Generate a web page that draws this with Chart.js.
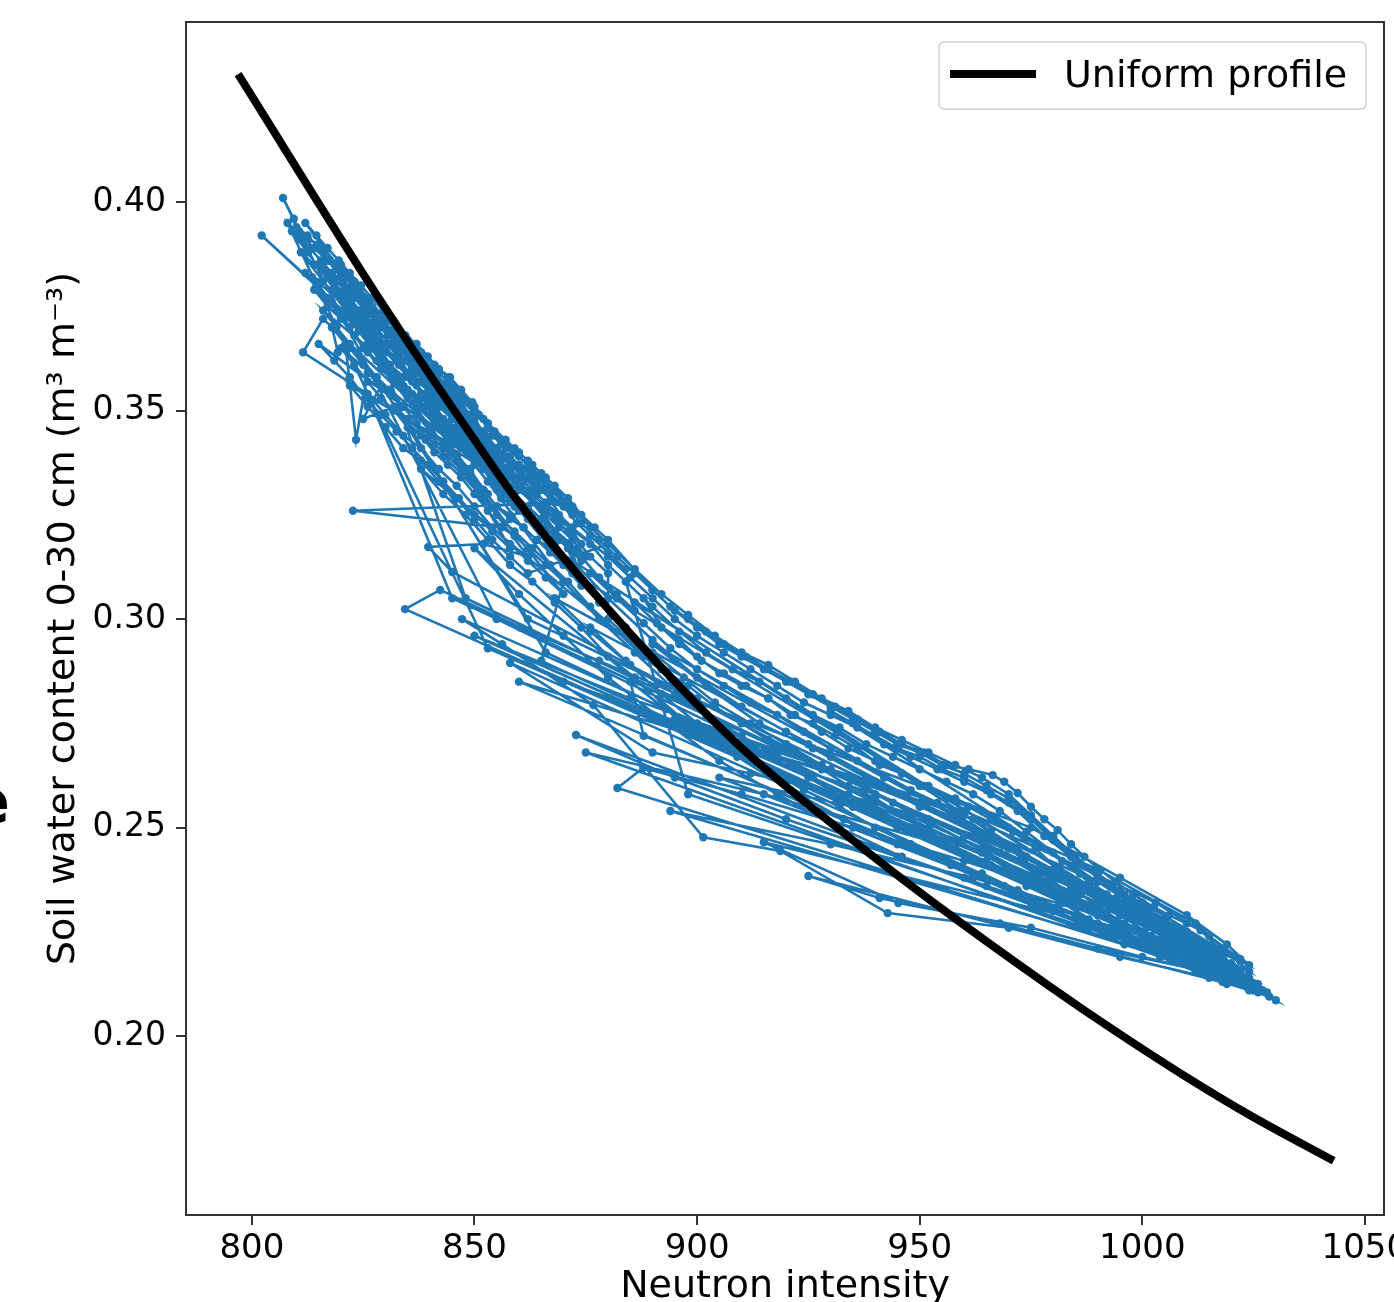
<!DOCTYPE html>
<html>
<head>
<meta charset="utf-8">
<script src="https://cdn.jsdelivr.net/npm/chart.js@4/dist/chart.umd.min.js"></script>
<style>
  html, body { margin: 0; padding: 0; background: #fff; }
  canvas { display: block; }
</style>
</head>
<body>
<canvas id="chart" width="1394" height="1302"></canvas>
<script>
const xTicks = [800, 850, 900, 950, 1000, 1050];
const yTicks = [0.20, 0.25, 0.30, 0.35, 0.40];

// uniform profile curve
const uniformN = [796.9, 828.8, 850.0, 859.6, 878.2, 908.1, 936.7, 952.4, 979.4, 994.5, 1009.3, 1024.4, 1043.0];
const uniformTheta = [0.4307, 0.3765, 0.343, 0.3285, 0.3046, 0.2710, 0.2455, 0.2326, 0.2118, 0.2008, 0.1906, 0.1809, 0.1701];

// observed series [neutron intensity, soil water content], in time order
const observed = [
  [812.6,0.388],[809.4,0.396],[807.0,0.401],[810.6,0.393],[812.6,0.391],[815.0,0.390],[817.5,0.386],[820.0,0.384],[822.5,0.381],[825.0,0.377],[827.5,0.374],[830.0,0.371],[832.5,0.368],[835.0,0.365],[838.0,0.362],[841.0,0.359],[844.0,0.356],[847.0,0.352],
  [813.5,0.382],[816.0,0.381],[818.5,0.378],[821.0,0.375],[823.5,0.371],[826.0,0.368],[828.6,0.365],[831.0,0.361],[834.0,0.358],[837.0,0.356],[840.0,0.352],[843.0,0.348],[846.0,0.346],[849.0,0.342],[852.0,0.338],[855.0,0.334],
  [811.5,0.364],[816.0,0.372],[818.0,0.370],[819.3,0.364],[822.0,0.365],[825.0,0.361],[828.0,0.357],[831.0,0.354],[834.0,0.351],[837.0,0.347],[840.0,0.344],[843.0,0.341],[846.0,0.338],[849.0,0.334],[852.0,0.331],
  [809.0,0.393],[811.0,0.391],[813.0,0.389],[815.5,0.386],[818.0,0.383],[820.5,0.381],[823.0,0.377],[825.5,0.374],[828.0,0.371],[830.5,0.368],[833.0,0.365],[835.5,0.362],[838.0,0.360],[840.5,0.357],[843.0,0.354],[845.5,0.351],[848.0,0.348],[850.5,0.345],[853.0,0.342],[855.5,0.339],[858.0,0.337],[861.0,0.334],[864.0,0.331],
  [802.2,0.392],[814.5,0.380],[817.0,0.377],[819.5,0.374],[822.0,0.370],[825.0,0.365],[828.0,0.362],[831.0,0.360],[834.0,0.356],[837.0,0.352],[840.0,0.349],[843.0,0.346],[846.0,0.342],[849.0,0.340],[852.0,0.336],[855.0,0.331],[858.0,0.329],
  [820.0,0.385],[823.0,0.381],[826.0,0.377],[829.0,0.373],[832.0,0.370],[835.0,0.366],[838.0,0.363],[841.0,0.360],[844.0,0.357],[847.0,0.353],[850.0,0.350],[853.0,0.346],[856.0,0.342],[859.0,0.340],[862.0,0.337],[865.0,0.334],[868.0,0.331],[871.0,0.328],
  [822.7,0.326],[856.0,0.322],[860.0,0.326],[863.0,0.324],[866.0,0.322],[869.0,0.319],[872.0,0.316],
  [818.0,0.370],[821.0,0.366],[823.4,0.343],[826.0,0.359],[829.0,0.356],[825.0,0.348],[832.0,0.351],[835.0,0.348],[838.0,0.345],[841.0,0.342],[844.0,0.339],[847.0,0.336],[850.0,0.333],[853.0,0.330],
  [811.0,0.388],[814.0,0.385],[817.0,0.382],[820.0,0.378],[823.0,0.374],[826.0,0.370],[829.0,0.366],[832.0,0.363],[835.0,0.359],[838.0,0.357],[841.0,0.353],[844.0,0.350],[847.0,0.347],[850.0,0.343],[853.0,0.339],[856.0,0.335],[859.0,0.333],[862.0,0.330],[865.0,0.327],[868.0,0.324],[871.0,0.321],[874.0,0.318],
  [862.0,0.336],[866.0,0.332],[870.0,0.328],[874.0,0.323],[878.0,0.319],[882.0,0.315],[886.0,0.311],[890.0,0.307],[894.0,0.303],[898.0,0.300],[902.0,0.297],[906.0,0.294],[911.0,0.291],[916.0,0.288],[921.0,0.285],[926.0,0.282],[931.0,0.279],[936.0,0.276],[941.0,0.273],[946.0,0.270],[951.0,0.268],[956.0,0.265],[961.0,0.264],[966.4,0.2626],[969.0,0.261],[972.0,0.2583],[975.0,0.255],[978.0,0.252],[981.0,0.2494],[984.0,0.246],[987.0,0.243],[990.6,0.2398],[994.0,0.237],[998.0,0.234],[1002.6,0.2309],[1006.0,0.229],[1010.0,0.227],[1013.1,0.2254],[1017.6,0.2206],[1020.6,0.2158],[1023.0,0.2135],[1025.0,0.2127],[1027.0,0.211],[1030.0,0.2086],[1026.0,0.2105],[1028.5,0.2095],[1024.0,0.212],
  [872.8,0.2722],[895.0,0.262],[920.0,0.252],[945.0,0.243],[965.0,0.236],[985.0,0.229],[1000.0,0.224],[1012.0,0.220],[1020.0,0.216],[1026.0,0.212],
  [882.1,0.2595],[887.9,0.2643],[910.0,0.258],[935.0,0.250],[960.0,0.242],[980.0,0.235],[998.0,0.228],[1012.0,0.222],[1022.0,0.2155],[1028.0,0.2105],
  [834.4,0.3024],[842.3,0.307],[860.3,0.298],[878.0,0.290],[900.0,0.280],[925.0,0.270],[950.0,0.260],[975.0,0.250],[995.0,0.238],[1010.0,0.229],[1019.0,0.222],[1024.0,0.217],
  [847.2,0.300],[856.2,0.294],[876.7,0.2794],[901.4,0.2477],[918.7,0.2444],[942.8,0.2295],[970.0,0.226],[995.0,0.219],[1015.0,0.214],[1024.0,0.211],
  [845.0,0.3113],[839.6,0.3173],[852.0,0.318],[862.0,0.315],
  [826.0,0.366],[829.0,0.363],[832.0,0.359],[835.0,0.355],[838.0,0.353],[841.0,0.350],[844.0,0.346],[847.0,0.343],[850.0,0.339],[853.0,0.336],[856.0,0.331],[859.0,0.329],[862.0,0.326],[865.0,0.322],[868.0,0.320],[871.0,0.317],[874.0,0.314],
  [828.0,0.372],[831.0,0.369],[834.0,0.365],[837.0,0.362],[840.0,0.359],[843.0,0.356],[846.0,0.353],[849.0,0.349],[852.0,0.345],[855.0,0.341],[858.0,0.339],[861.0,0.336],[864.0,0.333],[867.0,0.330],[870.0,0.327],[873.0,0.323],[876.0,0.320],[880.0,0.316],[884.0,0.312],
  [815.0,0.366],[818.5,0.362],[822.0,0.358],[825.5,0.353],[829.0,0.349],[832.5,0.345],[836.0,0.341],[839.5,0.337],[843.0,0.333],[846.5,0.329],[850.0,0.325],[854.0,0.321],[858.0,0.317],
  [833.0,0.363],[836.0,0.360],[839.0,0.357],[842.0,0.354],[845.0,0.351],[848.0,0.348],[851.0,0.344],[854.0,0.340],[857.0,0.336],[860.0,0.334],[863.0,0.331],[866.0,0.328],[869.0,0.325],[872.0,0.322],[876.0,0.318],[880.0,0.313],[884.0,0.309],[888.0,0.305],
  [892.0,0.298],[896.0,0.295],[900.0,0.291],[905.0,0.287],[910.0,0.284],[916.0,0.281],[922.0,0.277],[928.0,0.273],[934.0,0.269],[940.0,0.266],[946.0,0.263],[952.0,0.260],[958.0,0.257],[964.0,0.254],[970.0,0.250],[976.0,0.246],[982.0,0.242],[988.0,0.237],[994.0,0.233],[1000.0,0.229],[1006.0,0.226],[1011.0,0.223],[1016.0,0.220],[1020.0,0.217],[1024.0,0.2135],
  [894.0,0.254],[930.0,0.246],[962.0,0.238],[990.0,0.229],[1008.0,0.222],[1018.0,0.2175],[1026.0,0.2125],
  [880.5,0.281],[905.0,0.271],[935.0,0.262],[962.0,0.252],[985.0,0.241],[1003.0,0.232],[1015.0,0.224],[1022.0,0.2185],
  [915.0,0.2465],[945.2,0.2319],[975.0,0.226],[1000.0,0.219],[1018.0,0.2145],[1025.0,0.211],
  [925.0,0.2384],[941.0,0.2331],[968.0,0.227],[990.0,0.221],[1012.0,0.216],
  [858.0,0.2895],[890.0,0.268],[912.0,0.263],[940.0,0.256],[966.0,0.247],[988.0,0.236],[1005.0,0.228],[1017.0,0.221],[862.0,0.300],
  [828.0,0.358],[831.0,0.354],[834.0,0.351],[837.0,0.349],[840.0,0.345],[843.0,0.342],[846.0,0.339],[849.0,0.336],[852.0,0.331],[855.0,0.327],[858.0,0.324],[861.0,0.322],[864.0,0.319],[867.0,0.317],[870.0,0.313],
  [812.0,0.395],[814.5,0.392],[817.0,0.389],[819.5,0.386],[822.0,0.383],[824.5,0.380],[827.0,0.377],[829.5,0.374],[832.0,0.371],[834.5,0.368],[837.0,0.366],[839.5,0.363],[842.0,0.360],[844.5,0.358],[847.0,0.355],[849.5,0.352],[852.0,0.348],[854.5,0.345],[857.0,0.343],[860.0,0.340],[863.0,0.337],[866.0,0.334],
  [815.0,0.385],[818.0,0.381],[821.0,0.378],[824.0,0.374],[827.0,0.370],[830.0,0.366],[833.0,0.363],[836.0,0.360],[839.0,0.357],[842.0,0.353],[845.0,0.350],[848.0,0.346],[851.0,0.343],[854.0,0.338],[857.0,0.335],[860.0,0.333],[863.0,0.330],[866.0,0.327],
  [880.0,0.315],[885.0,0.310],[890.0,0.305],[895.0,0.300],[900.0,0.296],[906.0,0.292],[912.0,0.288],[918.0,0.284],[924.0,0.280],[930.0,0.277],[936.0,0.274],[942.0,0.270],[948.0,0.267],[954.0,0.264],[960.0,0.261],[966.0,0.258],[972.0,0.254],[978.0,0.248],[984.0,0.243],[990.0,0.238],[996.0,0.234],[1002.0,0.230],[1008.0,0.226],[1013.0,0.2225],[1018.0,0.219],[1022.0,0.2155],
  [868.0,0.305],[876.0,0.297],[885.0,0.289],[895.0,0.282],[905.0,0.275],[915.0,0.268],[925.0,0.262],[935.0,0.256],[945.0,0.250],[955.0,0.246],[965.0,0.242],[975.0,0.237],[985.0,0.232],[995.0,0.227],[1005.0,0.222],[1014.0,0.2185],[1020.0,0.2155],
  [872.0,0.311],[878.0,0.304],[884.0,0.298],[890.0,0.292],[897.0,0.286],[904.0,0.280],[912.0,0.275],[920.0,0.270],[928.0,0.265],[936.0,0.261],[944.0,0.256],[952.0,0.252],[960.0,0.248],[968.0,0.244],[976.0,0.239],[984.0,0.234],[992.0,0.229],[1000.0,0.225],[1008.0,0.221],[1015.0,0.218],[1021.0,0.2145],
  [853.0,0.293],
  [808.0,0.395],[811.0,0.392],[814.0,0.389],[817.0,0.386],[820.0,0.382],[823.0,0.378],[826.0,0.374],[829.0,0.370],[832.0,0.367],[835.0,0.363],[838.0,0.361],[841.0,0.357],[844.0,0.354],[847.0,0.351],[850.0,0.347],[853.0,0.343],[856.0,0.339],[859.0,0.337],[862.0,0.334],[865.0,0.331],[868.0,0.328],
  [814.0,0.379],[817.0,0.375],[820.0,0.372],[823.0,0.368],[826.0,0.364],[829.0,0.360],[832.0,0.357],[835.0,0.353],[838.0,0.351],[841.0,0.347],[844.0,0.344],[847.0,0.341],[850.0,0.337],[853.0,0.333],[856.0,0.329],[859.0,0.327],[862.0,0.324],[865.0,0.321],[868.0,0.318],[871.0,0.314],
  [818.0,0.379],[821.0,0.376],[824.0,0.371],[827.0,0.368],[830.0,0.364],[833.0,0.361],[836.0,0.357],[839.0,0.354],[842.0,0.351],[845.0,0.348],[848.0,0.344],[851.0,0.341],[854.0,0.336],[857.0,0.333],[860.0,0.331],[863.0,0.328],[866.0,0.325],[869.0,0.322],[872.0,0.319],[875.0,0.315],
  [820.0,0.365],[823.0,0.361],[826.0,0.357],[829.0,0.353],[832.0,0.350],[835.0,0.346],[838.0,0.344],[841.0,0.340],[844.0,0.337],[847.0,0.334],[850.0,0.330],[853.0,0.326],[856.0,0.322],[859.0,0.320],[862.0,0.317],[866.0,0.313],[870.0,0.309],
  [838.0,0.354],[841.0,0.351],[844.0,0.347],[847.0,0.344],[850.0,0.340],[853.0,0.336],[856.0,0.332],[859.0,0.330],[862.0,0.327],[865.0,0.324],[868.0,0.321],[871.0,0.318],[874.0,0.315],[878.0,0.310],[882.0,0.306],[886.0,0.302],
  [876.0,0.311],[882.0,0.305],[888.0,0.299],[894.0,0.293],[900.0,0.288],[906.0,0.284],[912.0,0.280],[918.0,0.277],[924.0,0.273],[930.0,0.269],[936.0,0.266],[942.0,0.262],[948.0,0.259],[954.0,0.256],[960.0,0.253],[966.0,0.249],[972.0,0.245],[978.0,0.240],[984.0,0.236],[990.0,0.231],[996.0,0.227],[1002.0,0.224],[1008.0,0.221],[1014.0,0.218],[1020.0,0.2145],
  [865.0,0.290],
  [870.0,0.309],[878.0,0.300],[886.0,0.292],[894.0,0.284],[902.0,0.277],[910.0,0.272],[918.0,0.267],[926.0,0.262],[934.0,0.258],[942.0,0.253],[950.0,0.249],[958.0,0.245],[966.0,0.241],[974.0,0.236],[982.0,0.232],[990.0,0.227],[998.0,0.223],[1006.0,0.220],[1014.0,0.2165],[1021.0,0.213],
  [888.0,0.272],
  [885.0,0.285],[897.0,0.275],[909.0,0.267],[921.0,0.259],[933.0,0.252],[945.0,0.246],[957.0,0.241],[969.0,0.236],[981.0,0.231],[993.0,0.226],[1005.0,0.221],[1015.0,0.217],
  [905.0,0.262],[935.0,0.255],[965.0,0.245],[995.0,0.232],[1015.0,0.221],
  [870.0,0.285],[910.0,0.270],[950.0,0.256],[990.0,0.237],[1018.0,0.219],
  [895.0,0.276],[930.0,0.264],[960.0,0.254],[990.0,0.240],[1012.0,0.227],[1024.0,0.2155],
  [848.0,0.305],
  [824.0,0.379],[827.0,0.375],[830.0,0.372],[833.0,0.369],[836.0,0.365],[839.0,0.362],[842.0,0.359],[845.0,0.356],[848.0,0.352],[851.0,0.349],[854.0,0.344],[857.0,0.341],[860.0,0.339],[863.0,0.336],[866.0,0.333],[869.0,0.330],[872.0,0.327],[876.0,0.322],[880.0,0.318],
  [816.0,0.385],[819.0,0.381],[818.0,0.383],[822.0,0.377],[825.0,0.373],[828.0,0.369],[827.0,0.371],[831.0,0.366],[834.0,0.362],[837.0,0.359],[836.0,0.361],[840.0,0.356],[843.0,0.353],[846.0,0.350],[849.0,0.346],[852.0,0.342],[855.0,0.338],[858.0,0.336],[861.0,0.333],[864.0,0.330],
  [822.0,0.356],[826.0,0.351],[830.0,0.346],[834.0,0.341],[838.0,0.338],[842.0,0.333],[846.0,0.329],[850.0,0.324],[854.0,0.319],[858.0,0.315],[862.0,0.311],
  [880.0,0.318],[886.0,0.312],[892.0,0.306],[898.0,0.301],[904.0,0.296],[910.0,0.292],[916.0,0.289],[922.0,0.285],[928.0,0.281],[934.0,0.278],[940.0,0.274],[946.0,0.271],[952.0,0.268],[958.0,0.265],[964.0,0.262],[970.0,0.258],[975.0,0.253],[980.0,0.248],[985.0,0.243],[990.0,0.239],[995.0,0.235],[1000.0,0.231],[1005.0,0.228],[1010.0,0.225],[1015.0,0.2215],[1020.0,0.2175],[1025.0,0.2125],
  [898.0,0.258],
  [884.0,0.309],[890.0,0.303],[896.0,0.297],[902.0,0.292],[908.0,0.288],[914.0,0.285],[920.0,0.281],[926.0,0.277],[932.0,0.274],[938.0,0.270],[944.0,0.267],[950.0,0.264],[956.0,0.261],[962.0,0.258],[968.0,0.254],[974.0,0.249],[980.0,0.244],[986.0,0.239],[992.0,0.234],[998.0,0.230],[1004.0,0.227],[1010.0,0.223],[1016.0,0.219],[1022.0,0.2145],
  [890.0,0.294],[902.0,0.284],[914.0,0.275],[926.0,0.269],[938.0,0.262],[950.0,0.255],[962.0,0.250],[974.0,0.243],[986.0,0.234],[998.0,0.228],[1010.0,0.222],[1020.0,0.2165],
  [930.0,0.278],[935.0,0.275],[940.0,0.272],[945.0,0.269],[950.0,0.267],[955.0,0.264],[960.0,0.262],[965.0,0.259],[970.0,0.256],[975.0,0.252],[980.0,0.247],[985.0,0.242],[990.0,0.238],[995.0,0.234],[1000.0,0.230],[1005.0,0.227],[1010.0,0.224],[1015.0,0.2205],[1020.0,0.216],[1024.0,0.2125],
  [855.0,0.300],
  [810.0,0.394],[812.5,0.392],[815.0,0.389],[817.5,0.386],[820.0,0.383],[822.5,0.380],[825.0,0.376],[827.5,0.373],[830.0,0.370],[832.5,0.367],[835.0,0.364],[837.5,0.362],[840.0,0.359],[842.5,0.356],[845.0,0.353],[847.5,0.350],[850.0,0.348],[852.5,0.344],[855.0,0.341],[857.5,0.339],[860.0,0.337],[863.0,0.334],[866.0,0.331],[869.0,0.328],[872.0,0.325],
  [816.0,0.374],[819.0,0.370],[822.0,0.366],[825.0,0.362],[828.0,0.358],[831.0,0.355],[834.0,0.351],[837.0,0.349],[840.0,0.345],[843.0,0.342],[846.0,0.339],[849.0,0.335],[852.0,0.331],[855.0,0.327],[858.0,0.325],[861.0,0.322],[864.0,0.319],[867.0,0.316],[870.0,0.313],[874.0,0.308],
  [820.0,0.378],[822.5,0.375],[825.0,0.371],[827.5,0.368],[830.0,0.365],[832.5,0.362],[835.0,0.359],[837.5,0.357],[840.0,0.354],[842.5,0.351],[845.0,0.348],[847.5,0.345],[850.0,0.343],[852.5,0.339],[855.0,0.336],[857.5,0.334],[860.0,0.332],[863.0,0.329],[866.0,0.326],[869.0,0.323],[872.0,0.320],[876.0,0.315],[880.0,0.311],
  [880.0,0.300],[886.0,0.294],[892.0,0.288],[898.0,0.284],[904.0,0.279],[910.0,0.275],[916.0,0.271],[922.0,0.268],[928.0,0.264],[934.0,0.260],[940.0,0.257],[946.0,0.253],[952.0,0.250],[958.0,0.247],[964.0,0.244],[970.0,0.240],[976.0,0.236],[982.0,0.232],[988.0,0.228],[994.0,0.225],[1000.0,0.222],[1006.0,0.219],[1012.0,0.216],[1018.0,0.213],
  [860.0,0.285],[900.0,0.272],[940.0,0.258],[980.0,0.240],[1010.0,0.225],[1024.0,0.214],
  [850.0,0.296],[885.0,0.281],[925.0,0.266],[965.0,0.249],[1000.0,0.232],[1022.0,0.218],
  [845.0,0.305],
  [826.0,0.354],[830.0,0.349],[834.0,0.344],[838.0,0.341],[842.0,0.336],[846.0,0.332],[850.0,0.327],[854.0,0.322],[858.0,0.318],[862.0,0.314],[866.0,0.310],[870.0,0.306],
  [812.0,0.383],[815.0,0.380],[818.0,0.376],[821.0,0.373],[824.0,0.369],[827.0,0.365],[830.0,0.361],[833.0,0.357],[836.0,0.354],[839.0,0.351],[842.0,0.348],[845.0,0.345],[848.0,0.341],[851.0,0.338],[854.0,0.333],[857.0,0.330],[860.0,0.328],[863.0,0.325],[866.0,0.322],[869.0,0.319],[872.0,0.316],
  [832.0,0.371],[835.0,0.367],[838.0,0.364],[841.0,0.361],[844.0,0.358],[847.0,0.354],[850.0,0.351],[853.0,0.347],[856.0,0.343],[859.0,0.341],[862.0,0.338],[865.0,0.335],[868.0,0.332],[871.0,0.329],[874.0,0.325],[877.0,0.322],[880.0,0.319],
  [890.0,0.307],[895.0,0.302],[900.0,0.298],[905.0,0.294],[910.0,0.291],[915.0,0.288],[920.0,0.285],[925.0,0.282],[930.0,0.279],[935.0,0.276],[940.0,0.273],[945.0,0.270],[950.0,0.268],[955.0,0.265],[960.0,0.263],[965.0,0.260],[970.0,0.257],[975.0,0.2525],[980.0,0.2475],[985.0,0.2425],[990.0,0.2385],[995.0,0.2345],[1000.0,0.2305],[1005.0,0.2275],[1010.0,0.2245],[1015.0,0.2205],[1020.0,0.2155],[1025.0,0.211],
  [875.0,0.268],[915.0,0.258],[955.0,0.246],[995.0,0.229],[1020.0,0.2165],
  [876.0,0.298],[884.0,0.290],[892.0,0.282],[900.0,0.275],[908.0,0.269],[916.0,0.264],[924.0,0.259],[932.0,0.255],[940.0,0.250],[948.0,0.246],[956.0,0.242],[964.0,0.239],[972.0,0.235],[980.0,0.230],[988.0,0.226],[996.0,0.222],[1004.0,0.219],[1012.0,0.2155],[1019.0,0.2125],
  [872.0,0.314],[880.0,0.305],[890.0,0.295],[900.0,0.286],[910.0,0.279],[920.0,0.273],[930.0,0.267],[940.0,0.261],[950.0,0.256],[960.0,0.251],[970.0,0.245],[980.0,0.237],[990.0,0.230],[1000.0,0.225],[1010.0,0.219],[1018.0,0.2155],
  [886.0,0.304],[891.0,0.299],[896.0,0.294],[901.0,0.290],[906.0,0.287],[911.0,0.284],[916.0,0.281],[921.0,0.277],[926.0,0.275],[931.0,0.272],[936.0,0.269],[941.0,0.265],[946.0,0.263],[951.0,0.260],[956.0,0.257],[961.0,0.255],[966.0,0.252],[971.0,0.249],[976.0,0.245],[981.0,0.240],[986.0,0.236],[991.0,0.232],[996.0,0.229],[1001.0,0.226],[1006.0,0.223],[1011.0,0.220],[1016.0,0.217],[1021.0,0.2135],
  [866.0,0.292],
  [835.0,0.347],[839.0,0.343],[843.0,0.339],[847.0,0.335],[851.0,0.330],[855.0,0.325],[859.0,0.321],[863.0,0.317],[867.0,0.313],[871.0,0.309],[876.0,0.303],[882.0,0.297],[888.0,0.291],[894.0,0.286],[900.0,0.281],
  [838.0,0.336],[843.0,0.330],[848.0,0.325],[853.0,0.319],[858.0,0.313],[863.0,0.309],[868.0,0.304],[874.0,0.298],[880.0,0.291],[886.0,0.286],[892.0,0.280],[898.0,0.275],
  [850.0,0.317],[860.0,0.306],[870.0,0.296],[880.0,0.286],[892.0,0.276],[905.0,0.266],[918.0,0.258],[932.0,0.250],[946.0,0.243],[960.0,0.238],[975.0,0.232],[990.0,0.226],[1005.0,0.221],[1016.0,0.217]
];

const FONT = 'DejaVu Sans';

// box around the plot, legend, and the clipped panel letter on the left
const extras = {
  id: 'extras',
  afterDraw(chart) {
    const ctx = chart.ctx;
    const a = chart.chartArea;
    ctx.save();
    ctx.strokeStyle = '#333';
    ctx.lineWidth = 2;
    ctx.strokeRect(a.left, a.top, a.right - a.left, a.bottom - a.top);

    ctx.beginPath();
    ctx.roundRect(939, 42, 427, 67, 5);
    ctx.fillStyle = 'rgba(255,255,255,0.8)';
    ctx.fill();
    ctx.strokeStyle = '#d0d0d0';
    ctx.lineWidth = 1.5;
    ctx.stroke();

    ctx.beginPath();
    ctx.moveTo(950, 74);
    ctx.lineTo(1036, 74);
    ctx.strokeStyle = '#000';
    ctx.lineWidth = 8;
    ctx.stroke();

    ctx.fillStyle = '#000';
    ctx.font = '38px ' + FONT;
    ctx.textBaseline = 'alphabetic';
    ctx.textAlign = 'left';
    ctx.fillText('Uniform profile', 1064, 87);

    ctx.font = 'bold 62px ' + FONT;
    ctx.textAlign = 'right';
    ctx.fillText('e', 10, 823);
    ctx.restore();
  }
};

new Chart(document.getElementById('chart'), {
  type: 'scatter',
  data: {
    datasets: [
      {
        label: 'Uniform profile',
        data: uniformN.map((n, i) => ({ x: n, y: uniformTheta[i] })),
        showLine: true,
        borderColor: '#000',
        borderWidth: 8,
        pointRadius: 0,
        tension: 0.4,
        cubicInterpolationMode: 'monotone',
        order: 0
      },
      {
        label: 'Observed',
        data: observed.map(p => ({ x: p[0], y: p[1] })),
        showLine: true,
        borderColor: '#1f77b4',
        backgroundColor: '#1f77b4',
        borderWidth: 2.6,
        pointRadius: 4.2,
        pointBorderWidth: 0,
        tension: 0,
        order: 1
      }
    ]
  },
  options: {
    responsive: false,
    animation: false,
    events: [],
    layout: { padding: { top: 22, right: 10, bottom: 0, left: 0 } },
    plugins: { legend: { display: false }, tooltip: { enabled: false } },
    scales: {
      x: {
        type: 'linear',
        min: 785.2,
        max: 1054.3,
        afterBuildTicks: s => { s.ticks = xTicks.map(v => ({ value: v })); },
        afterFit: s => { s.height = 87; s.paddingLeft = 0; s.paddingRight = 0; },
        grid: { drawOnChartArea: false, drawTicks: true, tickLength: 10, color: '#333', lineWidth: 2 },
        border: { display: false },
        ticks: { font: { family: FONT, size: 34 }, color: '#000', padding: 4, maxRotation: 0, autoSkip: false, callback: v => String(v) },
        title: { display: true, text: 'Neutron intensity', font: { family: FONT, size: 38 }, color: '#000', padding: { top: 0, bottom: -8 } }
      },
      y: {
        type: 'linear',
        min: 0.1571,
        max: 0.4432,
        afterBuildTicks: s => { s.ticks = yTicks.map(v => ({ value: v })); },
        afterFit: s => { s.width = 186; s.paddingTop = 0; s.paddingBottom = 0; },
        grid: { drawOnChartArea: false, drawTicks: true, tickLength: 10, color: '#333', lineWidth: 2 },
        border: { display: false },
        ticks: { font: { family: FONT, size: 33 }, color: '#000', padding: 10, callback: v => v.toFixed(2) },
        title: { display: true, text: 'Soil water content 0-30 cm (m³ m⁻³)', font: { family: FONT, size: 38 }, color: '#000', padding: { top: 41, bottom: 0 } }
      }
    }
  },
  plugins: [extras]
});
</script>
</body>
</html>
